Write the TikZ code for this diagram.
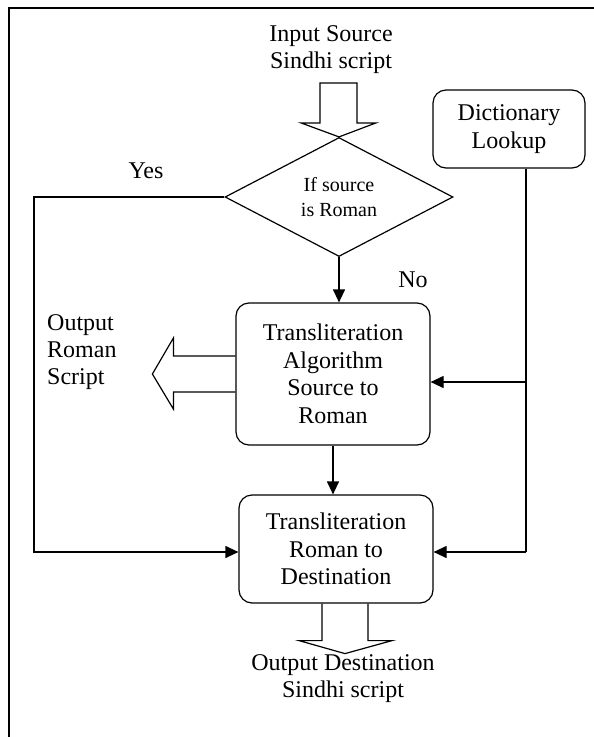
\documentclass[tikz,border=0pt]{standalone}
\usepackage{fontspec}
\setmainfont{Liberation Serif}
\usetikzlibrary{shapes.geometric,arrows.meta,calc}
\tikzset{
  proc/.style={draw, line width=1.2pt, rounded corners=13pt, align=center,
    font=\fontsize{24}{27.5}\selectfont, inner sep=0pt},
  txt/.style={align=center, font=\fontsize{24}{27}\selectfont, inner sep=0pt},
  link/.style={line width=1.2pt, -{Triangle[length=13pt,width=12pt]}},
  wire/.style={line width=1.2pt},
  fat/.style={line width=1.2pt, line join=miter}
}
\begin{document}
\begin{tikzpicture}[x=1pt, y=-1pt]
  \useasboundingbox (0,0) rectangle (594,737);
  % frame
  \draw[line width=2pt] (9,737) -- (9,8) -- (594,8);

  % nodes
  \node[txt] (insrc) at (331,50) {Input Source\\Sindhi script};
  \node[draw, diamond, line width=1.2pt, minimum width=228pt, minimum height=119pt,
        inner sep=0pt, align=center, font=\fontsize{20}{25}\selectfont]
        (dia) at (339,197) {If source\\is Roman};
  \node[proc, minimum width=152pt, minimum height=78pt] (dict) at (509,129) {Dictionary\\Lookup};
  \node[proc, minimum width=194pt, minimum height=142pt] (alg) at (333,374)
        {Transliteration\\Algorithm\\Source to\\Roman};
  \node[proc, minimum width=194pt, minimum height=108pt] (dest) at (336,549)
        {Transliteration\\Roman to\\Destination};
  \node[txt] (yes) at (146,171) {Yes};
  \node[txt] (no) at (413,280) {No};
  \node[txt, align=left, anchor=west] (outrom) at (47,352) {Output\\Roman\\Script};
  \node[txt] (outdst) at (343,679) {Output Destination\\Sindhi script};

  % block arrows
  \draw[fat] ($(dia.north)+(-19,-54)$) -- ($(dia.north)+(-19,-14)$) -- ($(dia.north)+(-38,-14)$)
    -- (dia.north) -- ($(dia.north)+(37,-14)$) -- ($(dia.north)+(18,-14)$)
    -- ($(dia.north)+(18,-54)$) -- cycle;
  \draw[fat] ($(alg.west)+(0,-18)$) -- ($(alg.west)+(-62,-18)$) -- ($(alg.west)+(-62,-36)$)
    -- ($(alg.west)+(-83,0)$) -- ($(alg.west)+(-62,35)$) -- ($(alg.west)+(-62,18)$)
    -- ($(alg.west)+(0,18)$);
  \draw[fat] ($(dest.south)+(-14,0)$) -- ($(dest.south)+(-14,37)$) -- ($(dest.south)+(-37,37)$)
    -- ($(dest.south)+(9,50)$) -- ($(dest.south)+(56,37)$) -- ($(dest.south)+(32,37)$)
    -- ($(dest.south)+(32,0)$);

  % connectors
  \coordinate (yc) at (34,197);
  \draw[link] (dia.west) -- (yc) |- ($(dest.west)+(0,3)$);
  \draw[link] (dia.south) -- (dia.south |- alg.north);
  \draw[link] (alg.south) -- (alg.south |- dest.north);
  \coordinate (j1) at (526,382);
  \coordinate (j2) at (526,552);
  \draw[wire] (dict.south -| j1) -- (j2);
  \draw[link] (j1) -- (alg.east |- j1);
  \draw[link] (j2) -- (dest.east |- j2);
\end{tikzpicture}
\end{document}
